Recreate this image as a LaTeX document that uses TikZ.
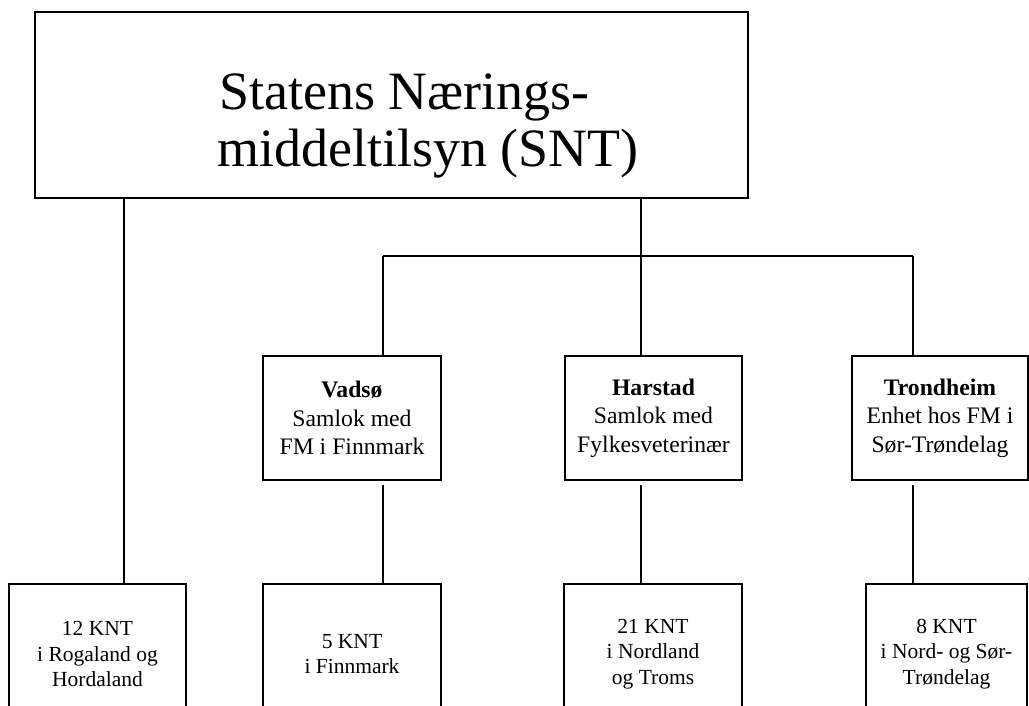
\documentclass[tikz,border=0pt]{standalone}
\usepackage{fontspec}
\setmainfont{Liberation Serif}
\begin{document}
\begin{tikzpicture}[x=1pt,y=-1pt,
  boxst/.style={draw=black, line width=1.4pt, inner sep=0pt, fill=none},
  titletext/.style={align=left, inner sep=0pt, font=\fontsize{54}{57}\selectfont},
  midtext/.style={align=center, font=\fontsize{23.7}{28.5}\selectfont},
  bottext/.style={align=center, font=\fontsize{21.5}{25.5}\selectfont},
  conn/.style={draw=black, line width=1.4pt}]
\useasboundingbox (0,0) rectangle (1029,705);
% top box
\node[boxst, minimum width=713pt, minimum height=186pt] (top) at (391.5,105) {};
\node[titletext, anchor=west] (toptxt) at (217,126) {\hspace*{2pt}Statens Nærings-\\middeltilsyn (SNT)};
% middle boxes
\node[boxst, midtext, minimum width=178pt, minimum height=124pt] (vad) at (352,418)
  {\textbf{Vadsø}\\Samlok med\\FM i Finnmark};
\node[boxst, midtext, minimum width=177pt, minimum height=124pt] (har) at (653.5,418)
  {\textbf{Harstad}\\Samlok med\\Fylkesveterinær};
\node[boxst, midtext, minimum width=176pt, minimum height=124pt] (tro) at (940,418)
  {\textbf{Trondheim}\\Enhet hos FM i\\Sør-Trøndelag};
% bottom boxes
\node[boxst, bottext, minimum width=177pt, minimum height=140pt] (b1) at (97.5,654)
  {12 KNT\\i Rogaland og\\Hordaland};
\node[boxst, bottext, minimum width=178pt, minimum height=140pt] (b2) at (352,654)
  {5 KNT\\i Finnmark};
\node[boxst, bottext, minimum width=178pt, minimum height=140pt] (b3) at (653,654)
  {21 KNT\\i Nordland\\og Troms};
\node[boxst, bottext, minimum width=161pt, minimum height=140pt] (b4) at (946.5,654)
  {8 KNT\\i Nord- og Sør-\\Trøndelag};
% connector positions
\coordinate (xa) at (124,0);
\coordinate (xb) at (383,0);
\coordinate (xc) at (641,0);
\coordinate (xd) at (913,0);
\coordinate (hy) at (0,256);
% connectors
\draw[conn] (top.south -| xa) -- (b1.north -| xa);
\draw[conn] (top.south -| xc) -- (har.north -| xc);
\draw[conn] (hy -| xb) -- (hy -| xd);
\draw[conn] (hy -| xb) -- (vad.north -| xb);
\draw[conn] (hy -| xd) -- (tro.north -| xd);
\draw[conn] ([yshift=-4pt]vad.south -| xb) -- (b2.north -| xb);
\draw[conn] ([yshift=-4pt]har.south -| xc) -- (b3.north -| xc);
\draw[conn] ([yshift=-4pt]tro.south -| xd) -- (b4.north -| xd);
\end{tikzpicture}
\end{document}
